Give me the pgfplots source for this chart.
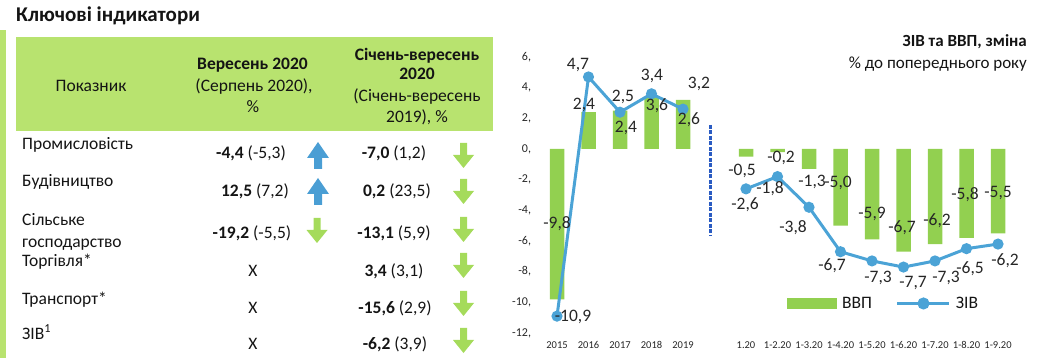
\documentclass[border=0pt]{standalone}
\usepackage{fontspec}
\setmainfont{Carlito}
\usepackage{pgfplots}
\pgfplotsset{compat=1.18}
\definecolor{hdr}{HTML}{B8E36F}
\definecolor{bargreen}{HTML}{92D050}
\definecolor{lineblue}{HTML}{4BA3D6}
\definecolor{arrblue}{HTML}{4A9ED4}
\definecolor{arrgreen}{HTML}{A5DB5B}
\definecolor{dashblue}{HTML}{2A5BC2}
\definecolor{txt}{HTML}{141414}
\definecolor{lbl}{HTML}{262626}
\newcommand\fs[1]{\fontsize{#1}{#1}\selectfont}
% up arrow: x centre, y top (pixel coords, y down)
\newcommand\uparr[2]{\fill[arrblue] ({#1-4},{#2+16}) -- ({#1-11},{#2+16}) -- ({#1},{#2}) -- ({#1+11},{#2+16}) -- ({#1+4},{#2+16}) -- ({#1+4},{#2+27}) -- ({#1-4},{#2+27}) -- cycle;}
\newcommand\dnarr[2]{\fill[arrgreen] ({#1-3.5},{#2}) -- ({#1+3.5},{#2}) -- ({#1+3.5},{#2+12}) -- ({#1+10.5},{#2+12}) -- ({#1},{#2+25}) -- ({#1-10.5},{#2+12}) -- ({#1-3.5},{#2+12}) -- cycle;}
\begin{document}
\begin{tikzpicture}[x=1pt,y=-1pt,
  lb/.style={anchor=base,inner sep=0pt,text=txt,font={\fs{17.5}}},
  lw/.style={anchor=base west,inner sep=0pt,text=txt,font={\fs{17.5}}},
  dl/.style={anchor=base,inner sep=0pt,text=lbl,font={\fs{17.5}}}]
\useasboundingbox (0,0) rectangle (1037,358);
% ---------- table ----------
\node[anchor=base west,inner sep=0pt,text=txt,font={\fs{21}\bfseries}] at (16,22) {Ключові індикатори};
\fill[hdr] (0,30) rectangle (6,358);
\fill[hdr] (16,37) rectangle (493,131);
\node[lb] at (91,92) {Показник};
\node[lb] at (252.5,70) {\bfseries Вересень 2020};
\node[lb] at (254,92) {(Серпень 2020),};
\node[lb] at (253,113) {\%};
\node[lb] at (417,61) {\bfseries Січень-вересень};
\node[lb] at (417,80) {\bfseries 2020};
\node[lb] at (417,102) {(Січень-вересень};
\node[lb] at (417,123) {2019), \%};
% rows
\node[lw] at (22,149.5) {Промисловість};
\node[lb] at (251,159) {\textbf{-4,4} (-5,3)};
\node[lb] at (394,159) {\textbf{-7,0} (1,2)};
\uparr{318}{142}
\dnarr{463.5}{143}
\node[lw] at (22,186.5) {Будівництво};
\node[lb] at (255,196.5) {\textbf{12,5} (7,2)};
\node[lb] at (397,196.5) {\textbf{0,2} (23,5)};
\uparr{318}{178}
\dnarr{463.5}{179}
\node[lw] at (22,226) {Сільське};
\node[lw] at (22,248) {господарство};
\node[lb] at (252,238.5) {\textbf{-19,2} (-5,5)};
\node[lb] at (394,238.5) {\textbf{-13,1} (5,9)};
\dnarr{317}{218}
\dnarr{463.5}{217}
\node[lw] at (22,267) {Торгівля*};
\node[lb] at (253,277) {X};
\node[lb] at (394,277) {\textbf{3,4} (3,1)};
\dnarr{463.5}{253}
\node[lw] at (22,305) {Транспорт*};
\node[lb] at (253,313) {X};
\node[lb] at (395,313) {\textbf{-15,6} (2,9)};
\dnarr{463.5}{291}
\node[lw] at (22,339) {ЗІВ\textsuperscript{1}};
\node[lb] at (253,349) {X};
\node[lb] at (395,349) {\textbf{-6,2} (3,9)};
\dnarr{463.5}{328}
% ---------- chart ----------
\node[anchor=base east,inner sep=0pt,text=txt,font={\fs{17}\bfseries}] at (1027,47) {ЗІВ та ВВП, зміна};
\node[anchor=base east,inner sep=0pt,text=txt,font={\fs{17}}] at (1027,69) {\% до попереднього року};
\begin{axis}[
  at={(541.25pt,-333pt)}, anchor=south west,
  scale only axis, width=472.5pt, height=276pt,
  xmin=-0.5, xmax=14.5, ymin=-12, ymax=6,
  axis line style={draw=none}, major tick length=0pt,
  ytick={-12,-10,...,6},
  yticklabels={{-12,},{-10,},{-8,},{-6,},{-4,},{-2,},{0,},{2,},{4,},{6,}},
  xtick={0,1,2,3,4,6,7,8,9,10,11,12,13,14},
  xticklabels={2015,2016,2017,2018,2019,1.20,1-2.20,1-3.20,1-4.20,1-5.20,1-6.20,1-7.20,1-8.20,1-9.20},
  xticklabel style={font={\fs{10.5}}, text=lbl, anchor=center, yshift=-12pt, inner sep=0pt},
  yticklabel style={font={\fs{12}}, text=lbl, anchor=east, xshift=-10pt, inner sep=0pt},
  clip=false,
  legend style={at={(0.52,0.107)}, anchor=west, draw=none, fill=none, legend columns=2,
    font={\fs{17.5}}, text=txt, inner sep=0pt,
    /tikz/every even column/.style={column sep=22pt}},
]
\addplot[ybar, bar width=14.5pt, fill=bargreen, draw=none,
  legend image code/.code={\fill[bargreen] (0pt,-5.5pt) rectangle (50pt,5.5pt);}]
  coordinates {(0,-9.8) (1,2.4) (2,2.5) (3,3.4) (4,3.2)
               (6,-0.5) (7,-0.2) (8,-1.3) (9,-5.0) (10,-5.9) (11,-6.7) (12,-6.2) (13,-5.8) (14,-5.5)};
\addlegendentry{\,ВВП}
\addplot[lineblue, line width=3pt, mark=*, mark size=4pt, mark options={fill=lineblue, draw=none},
  legend image code/.code={\draw[lineblue,line width=3pt] (0pt,0pt) -- (52pt,0pt); \fill[lineblue] (26pt,0pt) circle (4.5pt);}]
  coordinates {(0,-10.9) (1,4.7) (2,2.4) (3,3.6) (4,2.6)};
\addlegendentry{\,ЗІВ}
\addplot[lineblue, line width=3pt, mark=*, mark size=4pt, mark options={fill=lineblue, draw=none}, forget plot]
  coordinates {(6,-2.6) (7,-1.8) (8,-3.8) (9,-6.7) (10,-7.3) (11,-7.7) (12,-7.3) (13,-6.5) (14,-6.2)};
\end{axis}
\draw[dashblue, line width=2.6pt, dash pattern=on 4pt off 1.5pt] (710.5,125) -- (710.5,236);
% data labels (centre y + 5.5 = baseline)
\node[dl] at (578,69.5) {4,7};
\node[dl] at (584,109.5) {2,4};
\node[dl] at (623,101.5) {2,5};
\node[dl] at (626,132.5) {2,4};
\node[dl] at (652,80.5) {3,4};
\node[dl] at (657,110.5) {3,6};
\node[dl] at (699,88.5) {3,2};
\node[dl] at (689,124.5) {2,6};
\node[dl] at (557,228.5) {-9,8};
\node[dl] at (573,321.5) {-10,9};
\node[dl] at (742,175.5) {-0,5};
\node[dl] at (781,162.5) {-0,2};
\node[dl] at (770,193.5) {-1,8};
\node[dl] at (745,209.5) {-2,6};
\node[dl] at (812,186.5) {-1,3};
\node[dl] at (838,187.5) {-5,0};
\node[dl] at (793,232.5) {-3,8};
\node[dl] at (872,218.5) {-5,9};
\node[dl] at (902,232.5) {-6,7};
\node[dl] at (937,225.5) {-6,2};
\node[dl] at (965,199.5) {-5,8};
\node[dl] at (998,197.5) {-5,5};
\node[dl] at (832,270.5) {-6,7};
\node[dl] at (878,282.5) {-7,3};
\node[dl] at (913,287.5) {-7,7};
\node[dl] at (946,282.5) {-7,3};
\node[dl] at (970,273.5) {-6,5};
\node[dl] at (1005,265.5) {-6,2};
\end{tikzpicture}
\end{document}
